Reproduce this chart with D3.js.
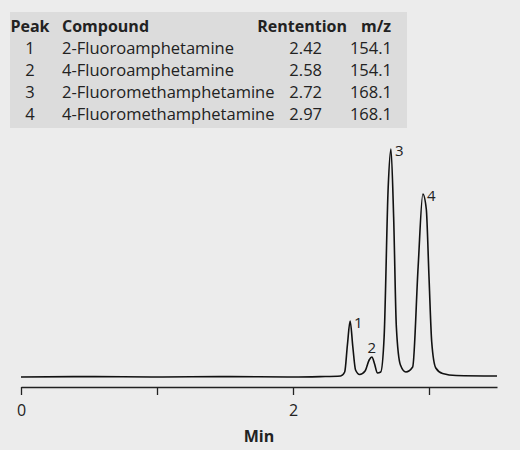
<!DOCTYPE html>
<html>
<head>
<meta charset="utf-8">
<script src="https://cdn.jsdelivr.net/npm/d3@7"></script>
<style>
  body { margin: 0; background: #ececec; }
  svg { display: block; font-family: "Open Sans", "Noto Sans", sans-serif; }
</style>
</head>
<body>
<svg id="chart" width="520" height="450"></svg>
<script>
const peaks = ['1', '2', '3', '4'];
const compounds = ['2-Fluoroamphetamine', '4-Fluoroamphetamine', '2-Fluoromethamphetamine', '4-Fluoromethamphetamine'];
const retention = ['2.42', '2.58', '2.72', '2.97'];
const mz = ['154.1', '154.1', '168.1', '168.1'];

// trace: [min, signal]
const trace = [
  [0, 0], [0.5, 0.4], [1, 0], [1.5, 0.4], [2, 0], [2.2, 0.4], [2.35, 1],
  [2.38, 5], [2.40, 32], [2.42, 56], [2.44, 30], [2.46, 7], [2.49, 2.5],
  [2.53, 6], [2.56, 17], [2.58, 20], [2.60, 13], [2.62, 4], [2.645, 5],
  [2.67, 40], [2.70, 190], [2.72, 228], [2.74, 160], [2.76, 50], [2.79, 12],
  [2.83, 5], [2.88, 10], [2.92, 110], [2.955, 183], [2.98, 168], [3.0, 100],
  [3.02, 35], [3.05, 9], [3.1, 3.5], [3.2, 1.5], [3.5, 1]
];
// [min, signal, label, centred above?]
const peakLabels = [[2.42, 56, '1', false], [2.58, 20, '2', true], [2.72, 228, '3', false], [2.955, 183, '4', false]];
const xTicks = [0, 1, 2, 3];
const xTickLabels = { 0: '0', 2: '2' };

const svg = d3.select('#chart');

// table
const tbl = svg.append('g');
tbl.append('rect').attr('x', 10).attr('y', 12).attr('width', 397).attr('height', 116).attr('fill', '#dcdcdc');
const header = [['Peak', 30, 'middle'], ['Compound', 62, 'start'], ['Rentention', 347, 'end'], ['m/z', 376, 'middle']];
header.forEach(([t, x, a]) => tbl.append('text').attr('x', x).attr('y', 32)
  .attr('text-anchor', a).attr('font-size', 16).attr('font-weight', 'bold').attr('fill', '#222').text(t));
peaks.forEach((p, i) => {
  const y = 54 + i * 22;
  const row = [[p, 30, 'middle'], [compounds[i], 62, 'start'], [retention[i], 322, 'end'], [mz[i], 392, 'end']];
  row.forEach(([t, x, a]) => tbl.append('text').attr('x', x).attr('y', y)
    .attr('text-anchor', a).attr('font-size', 16.5).attr('fill', '#222').text(t));
});

// chromatogram
const x = d3.scaleLinear().domain([0, 3.5]).range([21, 497]);
const y = d3.scaleLinear().domain([0, 228]).range([377, 149]);

svg.append('path')
  .datum(trace)
  .attr('d', d3.line().curve(d3.curveMonotoneX).x(d => x(d[0])).y(d => y(d[1])))
  .attr('fill', 'none').attr('stroke', '#111').attr('stroke-width', 1.6);

svg.selectAll('.plabel').data(peakLabels).join('text')
  .attr('x', d => d[3] ? x(d[0]) : x(d[0]) + 4)
  .attr('y', d => d[3] ? y(d[1]) - 4 : y(d[1]) + 7)
  .attr('text-anchor', d => d[3] ? 'middle' : 'start')
  .attr('font-size', 15).attr('fill', '#222').text(d => d[2]);

const axis = svg.append('g').attr('transform', 'translate(0,387)')
  .call(d3.axisBottom(x).tickValues(xTicks).tickSize(8).tickSizeOuter(0)
    .tickFormat(d => xTickLabels[d] || ''));
axis.select('.domain').attr('stroke', '#222').attr('stroke-width', 1.3);
axis.selectAll('.tick line').attr('stroke', '#222').attr('stroke-width', 1.3);
axis.selectAll('.tick text').attr('font-size', 16).attr('fill', '#222')
  .attr('font-family', '"Open Sans", sans-serif').attr('dy', '1.1em');

svg.append('text').attr('x', x(1.75)).attr('y', 442).attr('text-anchor', 'middle')
  .attr('font-size', 16).attr('font-weight', 'bold').attr('fill', '#222').text('Min');
</script>
</body>
</html>
